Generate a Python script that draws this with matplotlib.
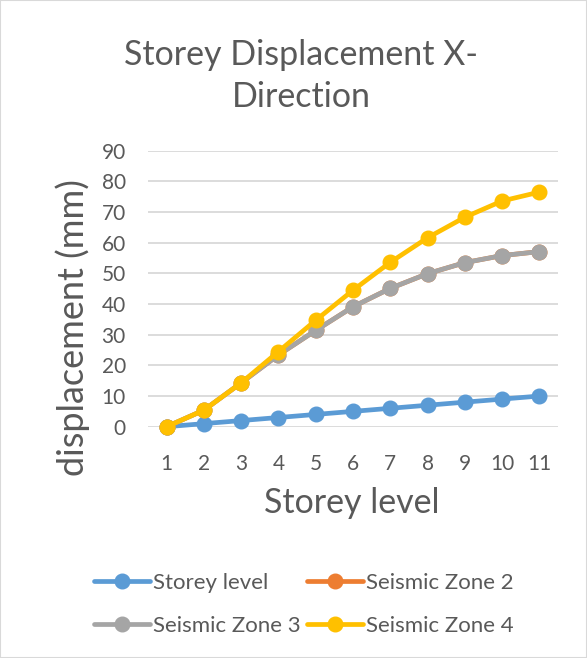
import numpy as np
import matplotlib.pyplot as plt
from matplotlib.patches import Rectangle

plt.rcParams['font.family'] = ['Lato', 'DejaVu Sans']

levels = [1, 2, 3, 4, 5, 6, 7, 8, 9, 10, 11]
storey = [0, 1, 2, 3, 4, 5, 6, 7, 8, 9, 10]
zone2 = [0, 5.4, 14.3, 23.4, 31.4, 39.1, 45.1, 49.9, 53.5, 55.8, 57.1]
zone3 = [0, 5.4, 14.3, 23.4, 31.4, 39.1, 45.1, 49.9, 53.5, 55.8, 57.1]
zone4 = [0, 5.4, 14.3, 24.5, 34.7, 44.5, 53.6, 61.6, 68.3, 73.6, 76.5]
names = ['Storey level', 'Seismic Zone 2', 'Seismic Zone 3', 'Seismic Zone 4']
colors = ['#5B9BD5', '#ED7D31', '#A5A5A5', '#FFC000']
txt = '#595959'

fig = plt.figure(figsize=(5.87, 6.58), dpi=100)
ax = fig.add_axes([148/587, 1-426.7/658, 410/587, 276/658])

lines = []
for vals, c, n in zip([storey, zone2, zone3, zone4], colors, names):
    ln, = ax.plot(levels, vals, color=c, lw=3.4, marker='o', ms=10.5,
                  label=n, clip_on=False, solid_capstyle='round')
    lines.append(ln)

ax.set_xlim(0.5, 11.5)
ax.set_ylim(0, 90)
ax.set_yticks(np.arange(0, 91, 10))
ax.set_xticks(levels)
ax.grid(axis='y', color='#D9D9D9', lw=1.3)
ax.set_axisbelow(True)
for s in ax.spines.values():
    s.set_visible(False)
ax.tick_params(length=0, labelsize=15, labelcolor=txt)
ax.tick_params(axis='y', pad=16)
ax.tick_params(axis='x', pad=20)

fig.text(0.513, 1-55/658, 'Storey Displacement X-', ha='center', va='center',
         fontsize=24.5, color=txt)
fig.text(0.513, 1-97/658, 'Direction', ha='center', va='center',
         fontsize=24.5, color=txt)
fig.text(0.6, 1-503/658, 'Storey level', ha='center', va='center',
         fontsize=24.5, color=txt)
fig.text(73/587, 1-328/658, 'displacement (mm)', ha='center', va='center',
         rotation=90, fontsize=26, color=txt)

# legend fills column-wise, so reorder to read row-wise
order = [0, 2, 1, 3]
fig.legend([lines[i] for i in order], [names[i] for i in order],
           loc='center', bbox_to_anchor=(0.518, 1-604.5/658), ncol=2,
           frameon=False, fontsize=16, handlelength=2.5,
           handletextpad=0.15, columnspacing=0.3, labelspacing=1.05,
           labelcolor=txt)

fig.patches.append(Rectangle((0, 0), 1, 1, transform=fig.transFigure,
                             fill=False, ec='#D9D9D9', lw=1.5))

fig.savefig('out.png', dpi=100)
